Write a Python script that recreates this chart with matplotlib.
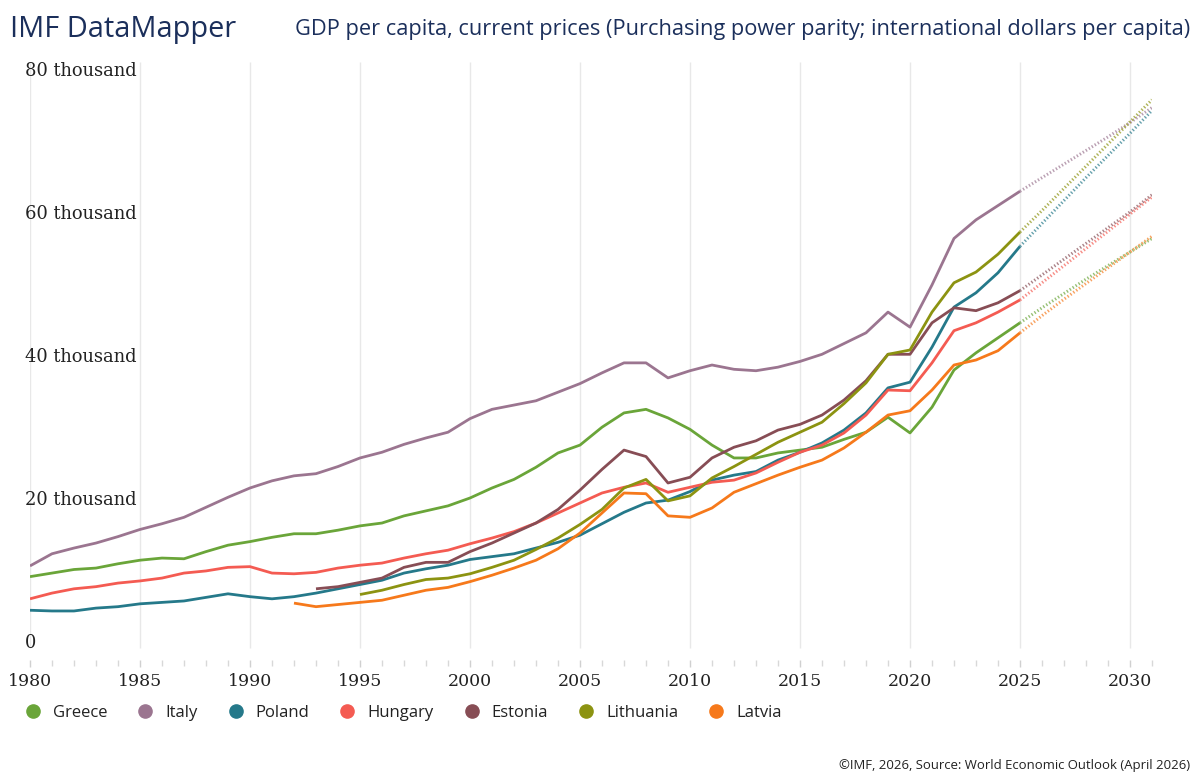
import matplotlib
matplotlib.use("Agg")
import matplotlib.pyplot as plt
from matplotlib.lines import Line2D
import numpy as np

# ---------------- data (thousand international $) ----------------
years_hist = list(range(1980, 2026))
years_proj = list(range(2025, 2032))

greece = [9.0, 9.5, 10.0, 10.2, 10.8, 11.3, 11.6, 11.5, 12.5, 13.4,
          13.9, 14.5, 15.0, 15.0, 15.5, 16.1, 16.5, 17.5, 18.2, 18.9,
          20.0, 21.4, 22.6, 24.3, 26.3, 27.4, 29.9, 31.9, 32.4, 31.2,
          29.6, 27.4, 25.6, 25.6, 26.3, 26.7, 27.1, 28.2, 29.2, 31.3,
          29.1, 32.7, 37.9, 40.3, 42.4, 44.5]
italy = [10.5, 12.2, 13.0, 13.7, 14.6, 15.6, 16.4, 17.3, 18.7, 20.1,
         21.4, 22.4, 23.1, 23.4, 24.4, 25.6, 26.4, 27.5, 28.4, 29.2,
         31.1, 32.4, 33.0, 33.6, 34.8, 36.0, 37.5, 38.9, 38.9, 36.8,
         37.8, 38.6, 38.0, 37.8, 38.3, 39.1, 40.1, 41.6, 43.1, 46.0,
         43.9, 49.8, 56.3, 58.9, 60.9, 62.9]
poland = [4.3, 4.2, 4.2, 4.6, 4.8, 5.2, 5.4, 5.6, 6.1, 6.6,
          6.2, 5.9, 6.2, 6.7, 7.3, 7.9, 8.5, 9.5, 10.1, 10.6,
          11.4, 11.8, 12.2, 13.0, 13.8, 14.8, 16.4, 18.0, 19.3, 19.7,
          20.9, 22.5, 23.2, 23.7, 25.3, 26.4, 27.7, 29.5, 31.9, 35.4,
          36.2, 41.1, 46.7, 48.7, 51.5, 55.2]
hungary = [5.9, 6.7, 7.3, 7.6, 8.1, 8.4, 8.8, 9.5, 9.8, 10.3,
           10.4, 9.5, 9.4, 9.6, 10.2, 10.6, 10.9, 11.6, 12.2, 12.7,
           13.6, 14.4, 15.3, 16.5, 17.9, 19.3, 20.7, 21.5, 22.1, 20.8,
           21.5, 22.2, 22.5, 23.5, 25.0, 26.4, 27.4, 29.1, 31.6, 35.1,
           35.0, 38.9, 43.4, 44.5, 46.0, 47.7]
estonia = [None] * 13 + [
           7.3, 7.6, 8.2, 8.8, 10.3, 11.0, 11.0,
           12.5, 13.7, 15.1, 16.5, 18.4, 21.1, 24.0, 26.7, 25.8, 22.1,
           22.9, 25.6, 27.1, 28.0, 29.5, 30.3, 31.6, 33.7, 36.4, 40.1,
           40.1, 44.5, 46.6, 46.2, 47.3, 49.0]
lithuania = [None] * 15 + [
             6.5, 7.1, 7.9, 8.6, 8.8,
             9.4, 10.3, 11.3, 12.8, 14.4, 16.3, 18.4, 21.4, 22.6, 19.6,
             20.3, 22.8, 24.4, 26.1, 27.8, 29.2, 30.6, 33.2, 36.1, 40.1,
             40.7, 46.0, 50.1, 51.6, 54.1, 57.2]
latvia = [None] * 12 + [
          5.3, 4.8, 5.1, 5.4, 5.7, 6.4, 7.1, 7.5,
          8.3, 9.2, 10.2, 11.3, 12.9, 15.1, 17.9, 20.7, 20.6, 17.5,
          17.3, 18.6, 20.8, 22.0, 23.2, 24.3, 25.3, 27.0, 29.2, 31.6,
          32.2, 35.1, 38.6, 39.3, 40.6, 43.1]

greece_proj = [44.5, 46.6, 48.6, 50.6, 52.5, 54.4, 56.3]
italy_proj = [62.9, 64.8, 66.7, 68.6, 70.5, 72.5, 74.6]
poland_proj = [55.2, 58.4, 61.6, 64.8, 67.9, 71.0, 74.2]
hungary_proj = [47.7, 50.1, 52.5, 54.9, 57.3, 59.7, 62.1]
estonia_proj = [49.0, 51.2, 53.4, 55.6, 57.8, 60.0, 62.4]
lithuania_proj = [57.2, 60.2, 63.3, 66.4, 69.5, 72.6, 75.7]
latvia_proj = [43.1, 45.5, 47.8, 50.0, 52.2, 54.4, 56.6]

countries = ["Greece", "Italy", "Poland", "Hungary", "Estonia", "Lithuania", "Latvia"]
hist = [greece, italy, poland, hungary, estonia, lithuania, latvia]
proj = [greece_proj, italy_proj, poland_proj, hungary_proj, estonia_proj,
        lithuania_proj, latvia_proj]
colors = ["#6aa539", "#9b7590", "#25798a", "#f45b52", "#874d55", "#8c9311", "#f6791b"]

ytick_vals = [0, 20000, 40000, 60000, 80000]
ytick_labels = ["0", "20 thousand", "40 thousand", "60 thousand", "80 thousand"]
xtick_vals = list(range(1980, 2031, 5))

# ---------------- figure ----------------
W, H = 1200, 783
fig = plt.figure(figsize=(W / 100, H / 100), dpi=100)
px_left, px_right, px_top, px_bottom = 30, 1152, 62, 660
ax = fig.add_axes([px_left / W, 1 - px_bottom / H,
                   (px_right - px_left) / W, (px_bottom - px_top) / H])

y0_px, px_per_k = 641, 7.15
ax.set_xlim(1980, 2031)
ax.set_ylim((y0_px - px_bottom) / px_per_k * 1000, (y0_px - px_top) / px_per_k * 1000)

# vertical gridlines
grid_bottom = (y0_px - 648) / px_per_k * 1000
ax.vlines(xtick_vals, grid_bottom, ax.get_ylim()[1], colors="#e8e8e8", lw=1, zorder=0)

for name, h, p, c in zip(countries, hist, proj, colors):
    yh = np.array([np.nan if v is None else v * 1000 for v in h])
    ax.plot(years_hist, yh, color=c, lw=2.0, solid_capstyle="butt", zorder=3)
    ax.plot(years_proj, np.array(p) * 1000, color=c, lw=2.2, alpha=0.7,
            linestyle=(0, (0.45, 0.7)), dash_capstyle="butt", zorder=2)

for s in ax.spines.values():
    s.set_visible(False)

serif = "DejaVu Serif"
ax.set_yticks(ytick_vals)
ax.set_yticklabels(ytick_labels, fontfamily=serif, fontsize=12.9, color="#222222")
ax.tick_params(axis="y", length=0, pad=3.6)
for lbl in ax.get_yticklabels():
    lbl.set_horizontalalignment("left")

ax.set_xticks(xtick_vals)
ax.set_xticks(list(range(1980, 2032)), minor=True)
ax.set_xticklabels([str(v) for v in xtick_vals], fontfamily=serif, fontsize=12.5, color="#222222")
ax.tick_params(axis="x", which="major", length=5, width=1, color="#d0d0d0", pad=4)
ax.tick_params(axis="x", which="minor", length=4, width=1, color="#d8d8d8")

# titles
navy = "#1b2f5b"
fig.text(10 / W, 1 - 29 / H, "IMF DataMapper", fontfamily="Open Sans", fontsize=20.8,
         color=navy, ha="left", va="center")
fig.text(1190 / W, 1 - 29 / H,
         "GDP per capita, current prices (Purchasing power parity; international dollars per capita)",
         fontfamily="Open Sans", fontsize=15.7, color=navy, ha="right", va="center")
fig.text(1190 / W, 1 - 765 / H, "©IMF, 2026, Source: World Economic Outlook (April 2026)",
         fontfamily="Open Sans", fontsize=9.45, color="#222222", ha="right", va="center")

# legend
handles = [Line2D([], [], linestyle="none", marker="o", markersize=9.5,
                  markerfacecolor=c, markeredgecolor=c) for c in colors]
leg = fig.legend(handles, countries, ncol=7, loc="center left",
                 bbox_to_anchor=(26 / W, 1 - 713 / H), frameon=False,
                 handlelength=0.8, handletextpad=0.8, columnspacing=1.88,
                 borderaxespad=0, borderpad=0,
                 prop={"family": "Open Sans", "size": 12.0})
for t in leg.get_texts():
    t.set_color("#222222")

fig.savefig("out.png", dpi=100)
